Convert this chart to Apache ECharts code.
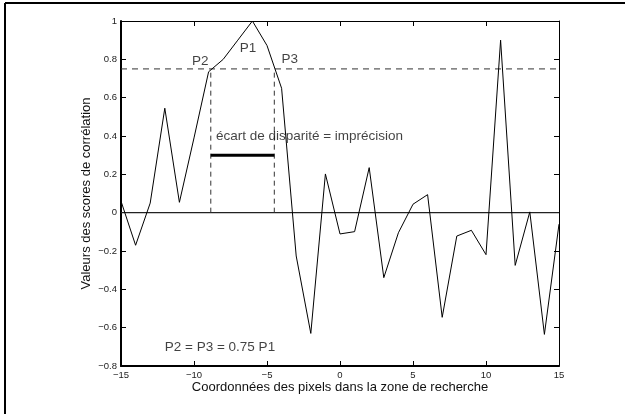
<!DOCTYPE html>
<html>
<head>
<meta charset="utf-8">
<script src="https://cdn.jsdelivr.net/npm/echarts@6/dist/echarts.min.js"></script>
<style>
  html, body { margin: 0; padding: 0; background: #fff; }
  #chart { width: 625px; height: 414px; }
</style>
</head>
<body>
<div id="chart"></div>
<script>
// pixel offsets in the search zone
const xs = [-15, -14, -13, -12, -11, -10, -9, -8, -7, -6, -5, -4, -3, -2, -1, 0,
  1, 2, 3, 4, 5, 6, 7, 8, 9, 10, 11, 12, 13, 14, 15];
// correlation scores
const scores = [0.06, -0.17, 0.05, 0.545, 0.054, 0.39, 0.735, 0.80, 0.90, 1.0, 0.872,
  0.649, -0.226, -0.63, 0.202, -0.111, -0.099, 0.235, -0.339, -0.105, 0.044, 0.094,
  -0.546, -0.122, -0.092, -0.219, 0.90, -0.275, 0.004, -0.635, -0.06];

// threshold and crossing points P2 / P3
const threshold = 0.75;
const p2x = -8.85;
const p3x = -4.5;
const gapY = 0.3;

// annotation texts: [x, y, text, align]
const notes = [
  [-9.57, 0.79, "P2", "center"],
  [-6.3, 0.86, "P1", "center"],
  [-3.44, 0.80, "P3", "center"],
  [-8.5, 0.397, "écart de disparité = imprécision", "left"],
  [-12.0, -0.704, "P2 = P3 = 0.75 P1", "left"],
];

const FONT = "Liberation Sans, Arial, Helvetica, sans-serif";
const fmt = v => String(Math.round(v * 10) / 10).replace("-", "\u2212");

const chart = echarts.init(document.getElementById("chart"), null, { renderer: "canvas" });

const baseX = {
  type: "value", min: -15, max: 15, interval: 5,
  splitLine: { show: false },
  axisTick: { inside: true, length: 5, lineStyle: { color: "#000", width: 1 } },
};
const baseY = {
  type: "value", min: -0.8, max: 1, interval: 0.2,
  splitLine: { show: false },
  axisTick: { inside: true, length: 5, lineStyle: { color: "#000", width: 1 } },
};

function seg(data, style) {
  return {
    type: "line", data: data, showSymbol: false, symbol: "none", silent: true,
    lineStyle: style, z: 1,
  };
}

const option = {
  animation: false,
  backgroundColor: "#fff",
  textStyle: { fontFamily: FONT },
  grid: { left: 121, right: 66, top: 21, bottom: 48 },
  xAxis: [
    Object.assign({}, baseX, {
      position: "bottom",
      axisLine: { onZero: false, lineStyle: { color: "#000", width: 2 } },
      axisLabel: { formatter: fmt, color: "#222", fontSize: 9.5, margin: 4, fontFamily: FONT },
      name: "Coordonnées des pixels dans la zone de recherche",
      nameLocation: "middle", nameGap: 15, nameMoveOverlap: false,
      nameTextStyle: { fontSize: 13, color: "#111", fontFamily: FONT },
    }),
    Object.assign({}, baseX, {
      position: "top",
      axisLine: { onZero: false, lineStyle: { color: "#000", width: 1 } },
      axisLabel: { show: false },
    }),
  ],
  yAxis: [
    Object.assign({}, baseY, {
      position: "left",
      axisLine: { onZero: false, lineStyle: { color: "#000", width: 2 } },
      axisLabel: { formatter: fmt, color: "#222", fontSize: 9.5, margin: 4, fontFamily: FONT },
      name: "Valeurs des scores de corrélation",
      nameLocation: "middle", nameGap: 28, nameMoveOverlap: false,
      nameTextStyle: { fontSize: 13, color: "#111", fontFamily: FONT },
    }),
    Object.assign({}, baseY, {
      position: "right",
      axisLine: { onZero: false, lineStyle: { color: "#000", width: 1 } },
      axisLabel: { show: false },
    }),
  ],
  graphic: [
    { type: "line", shape: { x1: 5, y1: 3, x2: 625, y2: 3 }, style: { stroke: "#000", lineWidth: 2 } },
    { type: "line", shape: { x1: 5, y1: 3, x2: 5, y2: 414 }, style: { stroke: "#000", lineWidth: 2 } },
  ],
  series: [
    seg([[-15, 0], [15, 0]], { color: "#222", width: 1.2 }),
    seg([[-15, threshold], [15, threshold]], { color: "#333", width: 1, type: [6, 5] }),
    seg([[p2x, 0], [p2x, threshold]], { color: "#333", width: 1, type: [5, 4] }),
    seg([[p3x, 0], [p3x, threshold]], { color: "#333", width: 1, type: [5, 4] }),
    seg([[p2x, gapY], [p3x, gapY]], { color: "#000", width: 3 }),
    {
      type: "line",
      data: xs.map((x, i) => [x, scores[i]]),
      showSymbol: false, symbol: "none", silent: true, z: 3,
      lineStyle: { color: "#000", width: 1 },
    },
    {
      type: "scatter", symbolSize: 0, silent: true, z: 4,
      data: notes.map(n => ({
        value: [n[0], n[1]],
        label: {
          show: true, formatter: n[2],
          position: n[3] === "left" ? "right" : "inside",
          distance: 0,
          color: "#111", fontSize: 13.5, fontFamily: FONT,
        },
      })),
    },
  ],
};

chart.setOption(option);
</script>
</body>
</html>
